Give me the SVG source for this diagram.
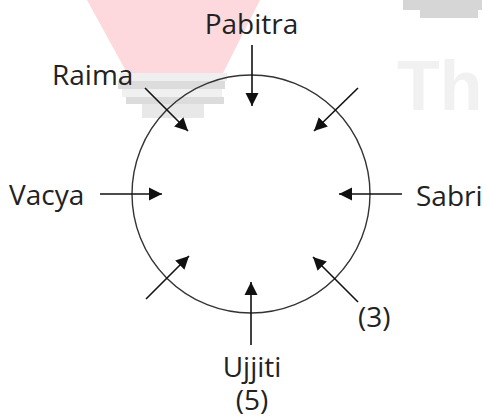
<svg xmlns="http://www.w3.org/2000/svg" width="487" height="419" viewBox="0 0 487 419">
<style>
.lbl{font-family:"Open Sans","Noto Sans","DejaVu Sans",sans-serif;font-size:28px;fill:#222}
.arr{stroke:#111;stroke-width:1.6;fill:none;marker-end:url(#ah)}
</style>
<defs>
<marker id="ah" markerUnits="userSpaceOnUse" markerWidth="14" markerHeight="14" viewBox="0 0 14 14" refX="13" refY="7" orient="auto">
<path d="M0,0.5 L13,7 L0,13.5 Z" fill="#111"/>
</marker>
</defs>
<rect width="487" height="419" fill="#fff"/>
<g id="watermark">
<path d="M87,0 L260,0 L223,73 L127,73 Z" fill="#fdd9dd"/>
<rect x="120" y="73" width="107" height="8" fill="#efefef"/>
<rect x="118" y="81" width="107" height="8" fill="#dcdcdc"/>
<rect x="122" y="89" width="100" height="8" fill="#f0f0f0"/>
<rect x="126" y="97" width="98" height="7" fill="#dcdcdc"/>
<rect x="142" y="104" width="62" height="14" fill="#e8e8e8"/>
<path d="M403,0 L482,0 L482,10 L478,10 L478,18 L420,18 L420,10 L403,10 Z" fill="#d6d6d6"/>
<text x="397" y="110" font-family="Liberation Sans, sans-serif" font-weight="bold" font-size="70" fill="#f1f1f1">Th</text>
</g>
<g id="circle">
<circle cx="251" cy="194" r="119" fill="none" stroke="#333" stroke-width="1.4"/>
</g>
<g id="connectors">
<line class="arr" x1="252" y1="45" x2="252" y2="106"/>
<line class="arr" x1="145" y1="88" x2="188" y2="131"/>
<line class="arr" x1="358" y1="88" x2="314" y2="131"/>
<line class="arr" x1="100" y1="194" x2="162" y2="194"/>
<line class="arr" x1="402" y1="194" x2="339" y2="194"/>
<line class="arr" x1="146" y1="299" x2="189" y2="256"/>
<line class="arr" x1="358" y1="302" x2="313" y2="257"/>
<line class="arr" x1="251" y1="345" x2="251" y2="282"/>
</g>
<g id="pabitra"><text class="lbl" x="251.5" y="34" text-anchor="middle">Pabitra</text></g>
<g id="raima"><text class="lbl" x="52" y="85">Raima</text></g>
<g id="vacya"><text class="lbl" x="9" y="205">Vacya</text></g>
<g id="sabri"><text class="lbl" x="416" y="206">Sabri</text></g>
<g id="ujjiti"><text class="lbl" text-anchor="middle"><tspan x="252" y="377">Ujjiti</tspan><tspan x="252" y="410">(5)</tspan></text></g>
<g id="label3"><text class="lbl" x="358" y="327">(3)</text></g>
</svg>
